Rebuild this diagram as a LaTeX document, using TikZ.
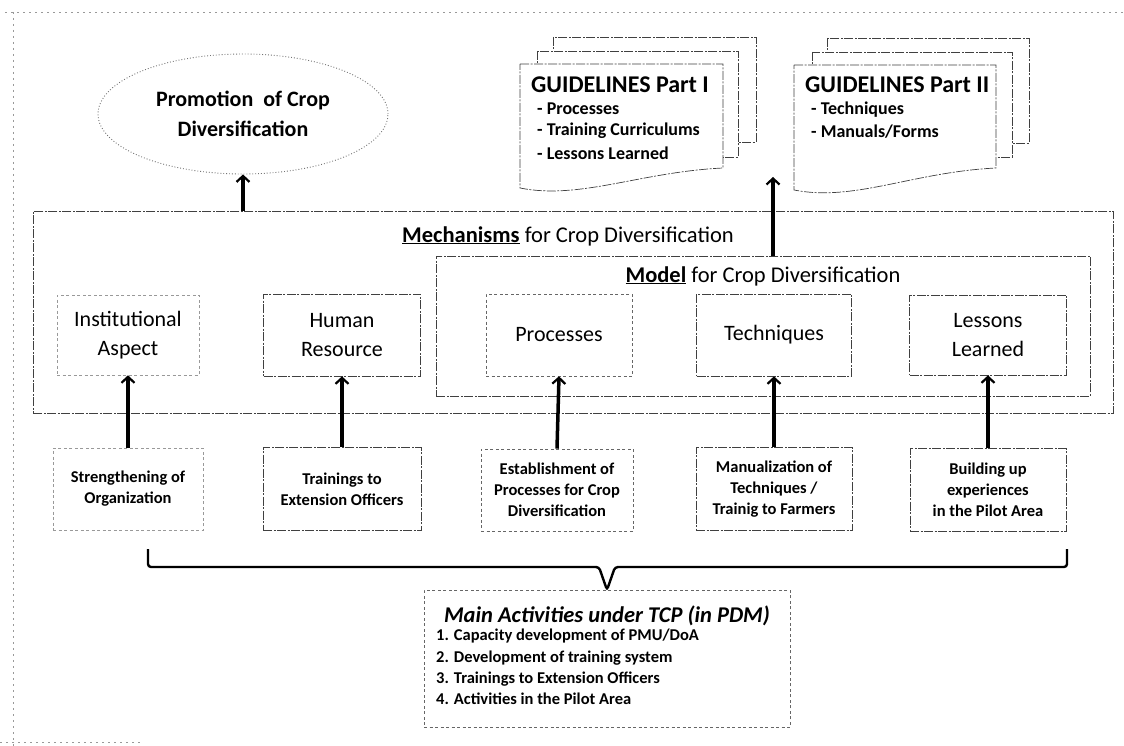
\documentclass[tikz,border=0pt]{standalone}
\usepackage{fontspec}
\setmainfont{Carlito}
\usetikzlibrary{arrows.meta,shapes.geometric,calc}
\begin{document}
\begin{tikzpicture}[x=1pt,y=-1pt,
  scan/.style={draw=black!75, line width=0.7pt, dash pattern=on 9pt off 1.5pt on 2pt off 1.5pt},
  faint/.style={draw=black!40, line width=0.6pt, dash pattern=on 3pt off 2.5pt},
  frame/.style={draw=black!40, line width=0.6pt, dash pattern=on 2pt off 4pt},
  lbl/.style={font=\fontsize{22}{29}\selectfont, align=center, inner sep=0pt},
  sub/.style={font=\bfseries\fontsize{16.5}{21}\selectfont, align=center, inner sep=0pt},
  ttl/.style={font=\fontsize{22.5}{26}\selectfont, inner sep=0pt},
  gtitle/.style={font=\bfseries\fontsize{24}{26}\selectfont, anchor=west, inner sep=0pt},
  gitem/.style={font=\bfseries\fontsize{18}{20}\selectfont, anchor=west, inner sep=0pt},
  arr/.style={line width=3.5pt, -{Straight Barb[length=6pt,width=13pt,line width=2.2pt]}},
  brace/.style={line width=2.4pt, rounded corners=3pt},
]
\useasboundingbox (0,0) rectangle (1124,746);

% page frame (scan)
\draw[frame] (5,12) -- (1124,12);
\draw[frame] (13,12) -- (13,746);
\draw[frame] (0,742) -- (140,742);

% Promotion ellipse
\node[ellipse, draw=black!55, dotted, line width=0.9pt, minimum width=290, minimum height=120,
      font=\bfseries\fontsize{22}{30}\selectfont, align=center] (promo) at (243,114)
      {Promotion\ \ of Crop\\Diversification};

% Mechanisms and Model frames
\node[scan, minimum width=1080, minimum height=202, anchor=north west, inner sep=0pt] (mech) at (33,211) {};
\node[ttl] (mecht) at (568,236)
      {\underline{\textbf{Mechanisms}} for Crop Diversification};
\node[scan, minimum width=654, minimum height=140, anchor=north west, inner sep=0pt] (model) at (436,256) {};
\node[ttl] (modelt) at (763,276)
      {\underline{\textbf{Model}} for Crop Diversification};

% Row 1
\node[lbl, faint, minimum width=142, minimum height=80] (inst) at (128,335) {Institutional\\Aspect};
\node[lbl, scan,  minimum width=157, minimum height=82] (hr)   at (342,335) {Human\\Resource};
\node[lbl, faint, draw=black!60, minimum width=146, minimum height=82] (proc) at (559,335) {Processes};
\node[lbl, scan,  minimum width=155, minimum height=82] (tech) at (774,335) {Techniques};
\node[lbl, scan,  minimum width=157, minimum height=80] (less) at (988,335) {Lessons\\Learned};

% Row 2
\node[sub, faint, minimum width=150, minimum height=82] (str) at (128,489) {Strengthening of\\Organization};
\node[sub, scan,  minimum width=158, minimum height=83] (trn) at (342,489) {Trainings to\\Extension Officers};
\node[sub, faint, draw=black!60, minimum width=152, minimum height=82] (est) at (557,490) {Establishment of\\Processes for Crop\\Diversification};
\node[sub, scan,  minimum width=156, minimum height=83] (man) at (774,489) {Manualization of\\Techniques /\\Trainig to Farmers};
\node[sub, scan,  minimum width=156, minimum height=83] (bld) at (988,490) {Building up\\experiences\\in the Pilot Area};

% Arrows row 2 -> row 1
\draw[arr] (str.north) -- (inst.south);
\draw[arr] (trn.north) -- (hr.south);
\draw[arr] (est.north) -- (proc.south);
\draw[arr] (man.north) -- (tech.south);
\draw[arr] (bld.north) -- (less.south);

% Arrow to promotion
\draw[arr] (promo.south |- mech.north) -- (promo.south);

% Guidelines Part I
\filldraw[scan, fill=white] (553,37) rectangle (756,142);
\filldraw[scan, fill=white] (537,51) rectangle (738,157);
\filldraw[scan, fill=white] (520,64) -- (723,64) -- (723,168)
   .. controls (640,172) and (580,200) .. (520,188) -- cycle;
\node[gtitle] (g1t) at (531,85) {GUIDELINES Part I};
\node[gitem] (g1a) at (537,109) {- Processes};
\node[gitem] (g1b) at (537,131) {- Training Curriculums};
\node[gitem] (g1c) at (537,153) {- Lessons Learned};

% Guidelines Part II
\filldraw[scan, fill=white] (827,38) rectangle (1029,143);
\filldraw[scan, fill=white] (812,52) rectangle (1012,157);
\filldraw[scan, fill=white] (794,65) -- (996,65) -- (996,168)
   .. controls (913,172) and (854,202) .. (794,190) -- cycle;
\node[gtitle] (g2t) at (805,85) {GUIDELINES Part II};
\node[gitem] (g2a) at (811,110) {- Techniques};
\node[gitem] (g2b) at (811,132) {- Manuals/Forms};

% Arrow to guidelines
\coordinate (gtip) at (773,177);
\draw[arr] (gtip |- model.north) -- (gtip);

% Main activities box
\node[faint, draw=black!60, minimum width=366, minimum height=137, anchor=north, inner sep=0pt] (main) at (607,590) {};
\node[font=\bfseries\itshape\fontsize{22.5}{26}\selectfont, inner sep=0pt] (maint) at (607,616)
      {Main Activities under TCP (in PDM)};
\node[font=\bfseries\fontsize{16.5}{21.3}\selectfont, align=left, anchor=north west, inner sep=0pt] (items) at (436,629)
      {1. Capacity development of PMU/DoA\\2. Development of training system\\3. Trainings to Extension Officers\\4. Activities in the Pilot Area};

% Brace
\coordinate (bl) at (148,549);
\coordinate (br) at (1067,549);
\draw[brace] (bl) |- ($(main.north)+(-8,-23)$) -- (main.north) -- ($(main.north)+(8,-23)$) -| (br);

\end{tikzpicture}
\end{document}
